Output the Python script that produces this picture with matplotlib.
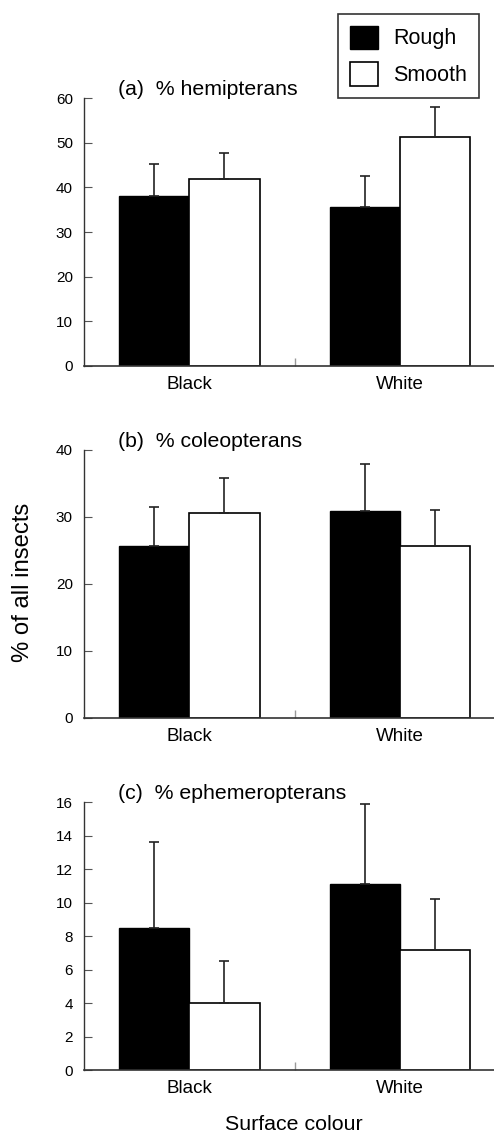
import matplotlib
matplotlib.use("Agg")
import matplotlib.pyplot as plt
import numpy as np
from matplotlib.patches import Patch

plt.rcParams["font.family"] = ["Liberation Sans", "DejaVu Sans"]

# data
surfaces = ["Black", "White"]
series = ["Rough", "Smooth"]

hemi_rough = [38.0, 35.7]
hemi_rough_se = [7.3, 6.8]
hemi_smooth = [41.9, 51.4]
hemi_smooth_se = [5.9, 6.7]

coleo_rough = [25.6, 30.9]
coleo_rough_se = [5.9, 7.0]
coleo_smooth = [30.6, 25.6]
coleo_smooth_se = [5.2, 5.4]

ephem_rough = [8.5, 11.1]
ephem_rough_se = [5.1, 4.8]
ephem_smooth = [4.0, 7.2]
ephem_smooth_se = [2.5, 3.0]

titles = ["(a)  % hemipterans", "(b)  % coleopterans", "(c)  % ephemeropterans"]
ylims = [60, 40, 16]
ysteps = [10, 10, 2]

panels = [
    (hemi_rough, hemi_rough_se, hemi_smooth, hemi_smooth_se),
    (coleo_rough, coleo_rough_se, coleo_smooth, coleo_smooth_se),
    (ephem_rough, ephem_rough_se, ephem_smooth, ephem_smooth_se),
]

W, H = 494, 1133
fig = plt.figure(figsize=(W / 100, H / 100), dpi=100)

bottoms = [0.677, 0.3666, 0.0556]
ax_h = 0.2363
ax_left = 84 / W
ax_w = 421.2 / W
width = 0.334
x = np.arange(len(surfaces))

for i, (r, rse, s, sse) in enumerate(panels):
    ax = fig.add_axes([ax_left, bottoms[i], ax_w, ax_h])
    ax.bar(x - width / 2, r, width, color="black", edgecolor="black", linewidth=1)
    ax.bar(x + width / 2, s, width, color="white", edgecolor="black", linewidth=1.2)
    # upper-only error bars
    ax.errorbar(x - width / 2, r, yerr=[np.zeros(len(r)), rse], fmt="none",
                ecolor="#222222", elinewidth=1.2, capsize=3.6, capthick=1.2, zorder=1)
    ax.errorbar(x + width / 2, s, yerr=[np.zeros(len(s)), sse], fmt="none",
                ecolor="#222222", elinewidth=1.2, capsize=3.6, capthick=1.2, zorder=1)
    ax.set_xlim(-0.5, 1.5)
    ax.set_ylim(0, ylims[i])
    ax.set_yticks(np.arange(0, ylims[i] + 0.1, ysteps[i]))
    ax.tick_params(axis="y", direction="in", length=6, width=0.8, color="#555555",
                   labelsize=11, pad=8)
    ax.set_xticks([0.5])
    ax.set_xticklabels([""])
    ax.tick_params(axis="x", direction="in", length=6, width=1, color="#999999")
    for k, lab in enumerate(surfaces):
        ax.text(k, -0.07 * ylims[i], lab, ha="center", va="center", fontsize=13.5,
                transform=ax.transData)
    for sp in ["top", "right"]:
        ax.spines[sp].set_visible(False)
    ax.spines["left"].set_color("#333333")
    ax.spines["bottom"].set_color("#333333")
    ax.spines["left"].set_linewidth(1)
    ax.spines["bottom"].set_linewidth(1.2)
    ax.text((118 - 84) / (ax_w * W), 1.0 + 3 / (ax_h * H), titles[i],
            transform=ax.transAxes, fontsize=15.3, ha="left", va="baseline")

fig.text(23 / W, 1 - 582 / H, "% of all insects", rotation=90, ha="center",
         va="center", fontsize=17.2)
fig.text(294 / W, 1 - 1124 / H, "Surface colour", ha="center", va="center",
         fontsize=15.4)

handles = [Patch(facecolor="black", edgecolor="black"),
           Patch(facecolor="white", edgecolor="black", linewidth=1.2)]
leg = fig.legend(handles, series, loc="upper left",
                 bbox_to_anchor=(338 / W, 1 - 13.7 / H), fontsize=15.5,
                 frameon=True, fancybox=False, edgecolor="black",
                 handlelength=1.3, handleheight=1.3, handletextpad=0.7,
                 borderpad=0.55, labelspacing=0.6, borderaxespad=0)
leg.get_frame().set_linewidth(1.2)

fig.savefig("out.png", dpi=100)
